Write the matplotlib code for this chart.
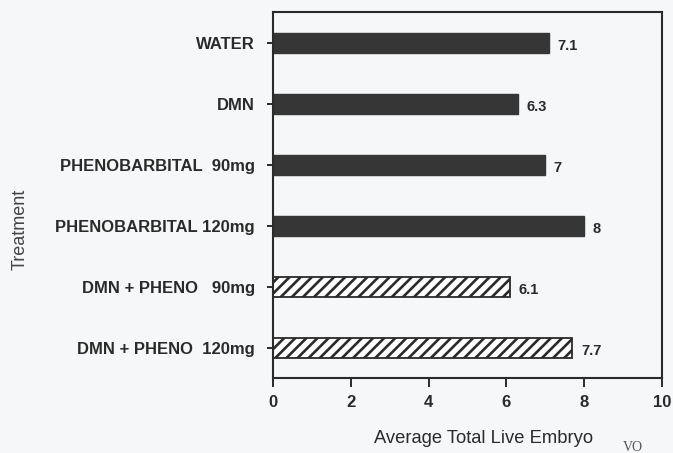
import matplotlib.pyplot as plt

treatments = ['WATER', 'DMN', 'PHENOBARBITAL  90mg', 'PHENOBARBITAL 120mg',
              'DMN + PHENO   90mg', 'DMN + PHENO  120mg']
embryos = [7.1, 6.3, 7, 8, 6.1, 7.7]
combined = [False, False, False, False, True, True]

plt.rcParams['font.family'] = ['Liberation Sans', 'DejaVu Sans']
plt.rcParams['hatch.linewidth'] = 1.9
bg = '#f5f7f8'
ink = '#2a2a2a'

fig = plt.figure(figsize=(6.73, 4.53), dpi=100, facecolor=bg)
ax = fig.add_axes([0.4056, 0.1656, 0.578, 0.808])
ax.set_facecolor(bg)

pos = list(range(len(treatments)))
for p, v, c in zip(pos, embryos, combined):
    if c:
        ax.barh(p, v, height=0.34, color='white', edgecolor=ink,
                hatch='///', linewidth=1.3)
    else:
        ax.barh(p, v, height=0.34, color='#363636', edgecolor='#363636')
    ax.text(v + 0.22, p + 0.04, f'{v:g}', va='center', ha='left',
            fontsize=10.5, fontweight='bold', color=ink)

ax.set_ylim(5.49, -0.51)
ax.set_xlim(0, 10)
ax.set_yticks(pos)
ax.set_yticklabels(treatments, fontsize=12, fontweight='bold', color=ink)
ax.set_xticks(range(0, 11, 2))
ax.set_xticklabels([str(t) for t in range(0, 11, 2)], fontsize=12,
                   fontweight='bold', color=ink)
ax.tick_params(axis='x', direction='out', length=6.5, width=1.4, pad=6, colors=ink)
ax.tick_params(axis='y', direction='out', length=4.5, width=1.4, pad=8.5, colors=ink)
for s in ax.spines.values():
    s.set_linewidth(1.5)
    s.set_color(ink)

fig.text(0.719, 0.033, 'Average Total Live Embryo', ha='center', va='center',
         fontsize=13.2, color=ink)
fig.text(0.03, 0.494, 'Treatment', rotation=90, ha='center', va='center',
         fontsize=13, color='#444444')
fig.text(0.94, 0.013, 'VO', ha='center', va='center', fontsize=10,
         family='Liberation Serif', color='#555555')

fig.savefig('out.png', dpi=100, facecolor=fig.get_facecolor())
